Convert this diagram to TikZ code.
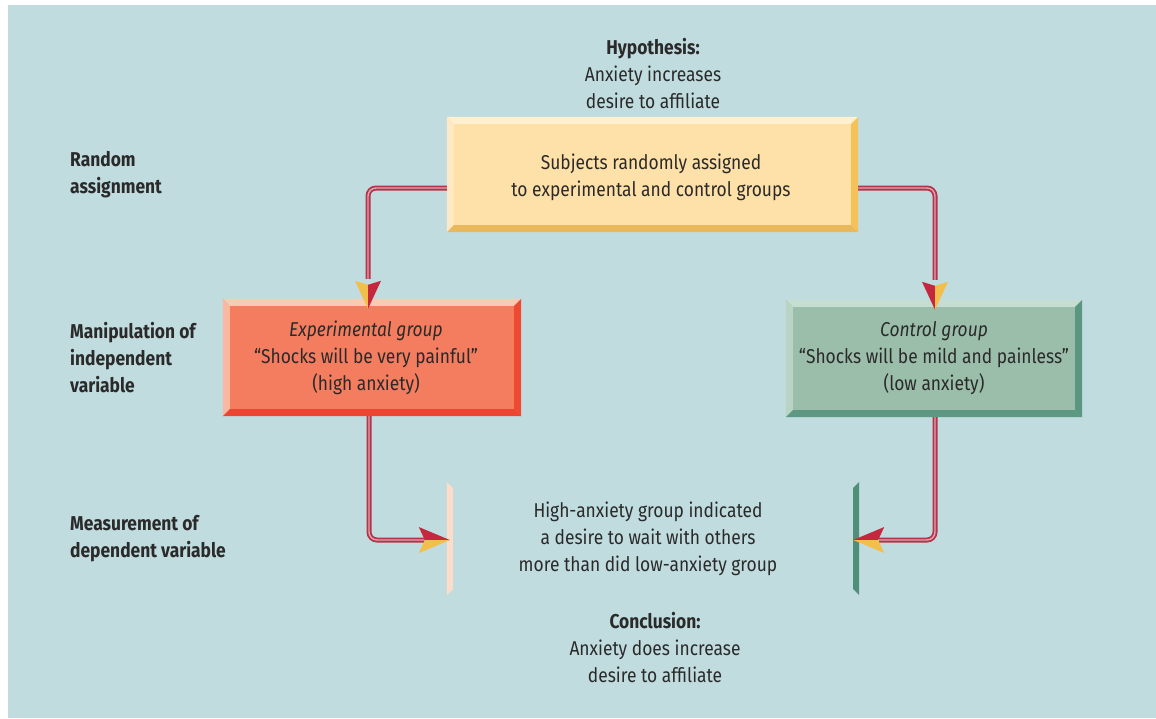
\documentclass[tikz,border=0pt]{standalone}
\usepackage{fontspec}
\setmainfont{Fira Sans}[FakeStretch=0.87]
\usetikzlibrary{calc}
\definecolor{bg}{HTML}{C0DCDF}
\definecolor{ink}{HTML}{2A2A2A}
\definecolor{pipedark}{HTML}{B3344B}
\definecolor{pipelight}{HTML}{E6A2AE}
\definecolor{crim}{HTML}{C3283F}
\definecolor{yel}{HTML}{F2C04A}
\definecolor{topfill}{HTML}{FEE0A9}
\definecolor{toptop}{HTML}{FFF0D2}
\definecolor{topleft}{HTML}{FFE8C4}
\definecolor{topright}{HTML}{F5C25A}
\definecolor{topbot}{HTML}{E9B85C}
\definecolor{expfill}{HTML}{F47D60}
\definecolor{exptop}{HTML}{FBCAB3}
\definecolor{expleft}{HTML}{F9B9A0}
\definecolor{expright}{HTML}{EE4A33}
\definecolor{expbot}{HTML}{EC4632}
\definecolor{ctlfill}{HTML}{9BBEAB}
\definecolor{ctltop}{HTML}{C6DDD1}
\definecolor{ctlleft}{HTML}{B9D4C5}
\definecolor{ctlright}{HTML}{5A9680}
\definecolor{ctlbot}{HTML}{5C9882}
\definecolor{barlight}{HTML}{FDDCCA}
\definecolor{bardark}{HTML}{4F8F77}
\newcommand\bevelbox[5]{%
  \fill[#2] (#1.north west) -- (#1.north east) -- ([xshift=-7pt,yshift=-7pt]#1.north east) -- ([xshift=7pt,yshift=-7pt]#1.north west) -- cycle;
  \fill[#3] (#1.north west) -- ([xshift=7pt,yshift=-7pt]#1.north west) -- ([xshift=7pt,yshift=7pt]#1.south west) -- (#1.south west) -- cycle;
  \fill[#4] (#1.north east) -- (#1.south east) -- ([xshift=-7pt,yshift=7pt]#1.south east) -- ([xshift=-7pt,yshift=-7pt]#1.north east) -- cycle;
  \fill[#5] (#1.south west) -- (#1.south east) -- ([xshift=-7pt,yshift=7pt]#1.south east) -- ([xshift=7pt,yshift=7pt]#1.south west) -- cycle;}
\newcommand\arrowD[3]{%
  \fill[#2] (#1) -- ++(-13,-28) -- ++(13,4) -- cycle;
  \fill[#3] (#1) -- ++(13,-28) -- ++(-13,4) -- cycle;}
\newcommand\arrowR[1]{%
  \fill[crim] (#1) -- ++(-31,-13) -- ++(6,13) -- cycle;
  \fill[yel] (#1) -- ++(-31,13) -- ++(6,-13) -- cycle;}
\newcommand\arrowL[1]{%
  \fill[crim] (#1) -- ++(31,-13) -- ++(-6,13) -- cycle;
  \fill[yel] (#1) -- ++(31,13) -- ++(-6,-13) -- cycle;}
\begin{document}
\begin{tikzpicture}[x=1pt,y=-1pt,
  txt/.style={text=ink, align=center, font=\fontsize{20}{27}\selectfont, inner sep=0pt},
  lbl/.style={text=ink, align=left, anchor=west, font=\fontsize{20}{27}\selectfont\bfseries, inner sep=0pt},
  box/.style={txt, minimum width=#1, inner sep=0pt},
  pipe/.style={draw=pipedark, line width=1.8pt, double=pipelight, double distance=1.4pt, rounded corners=8pt}]
\useasboundingbox (0,0) rectangle (1156,718);
\fill[bg] (8,5) rectangle (1156,718);
% texts
\node[txt] (hyp) at (653,73.5) {\textbf{Hypothesis:}\\Anxiety increases\\desire to affiliate};
\node[txt] (concl) at (655,647) {\textbf{Conclusion:}\\Anxiety does increase\\desire to affiliate};
\node[lbl] (l1) at (70,174.5) {Random\\assignment};
\node[lbl] (l2) at (70,358) {Manipulation of\\independent\\variable};
\node[lbl] (l3) at (70,539) {Measurement of\\dependent variable};
% boxes
\node[box=411pt, minimum height=115pt, fill=topfill] (top) at (652.5,174.5) {};
\bevelbox{top}{toptop}{topleft}{topright}{topbot}
\node[txt] at (651,177.5) {Subjects randomly assigned\\to experimental and control groups};
\node[box=298pt, minimum height=117pt, fill=expfill] (exp) at (372,357.5) {};
\bevelbox{exp}{exptop}{expleft}{expright}{expbot}
\node[txt] at (366,358) {\textit{Experimental group}\\“Shocks will be very painful”\\(high anxiety)};
\node[box=296pt, minimum height=117pt, fill=ctlfill] (ctl) at (934,358.5) {};
\bevelbox{ctl}{ctltop}{ctlleft}{ctlright}{ctlbot}
\node[txt] at (934,358) {\textit{Control group}\\“Shocks will be mild and painless”\\(low anxiety)};
\node[box=412pt, minimum height=113pt] (res) at (653,538.5) {};
\node[txt] at (648,539) {High-anxiety group indicated\\a desire to wait with others\\more than did low-anxiety group};
\fill[barlight] (res.north west) -- ([xshift=6pt,yshift=-6pt]res.north west) -- ([xshift=6pt,yshift=6pt]res.south west) -- (res.south west) -- cycle;
\fill[bardark] (res.north east) -- (res.south east) -- ([xshift=-6pt,yshift=6pt]res.south east) -- ([xshift=-6pt,yshift=-6pt]res.north east) -- cycle;
% connectors
\draw[pipe] ([yshift=-13.5pt]top.west) -| ([xshift=-4pt,yshift=20pt]exp.north);
\draw[pipe] ([yshift=-13.5pt]top.east) -| ([xshift=1pt,yshift=20pt]ctl.north);
\draw[pipe] ([xshift=-3pt]exp.south) |- ([xshift=-20pt,yshift=-1.5pt]res.west);
\draw[pipe] ([xshift=1pt]ctl.south) |- ([xshift=20pt,yshift=-1.5pt]res.east);
\coordinate (t1) at ([xshift=-4pt,yshift=-10pt]exp.north);
\coordinate (t2) at ([xshift=1pt,yshift=-10pt]ctl.north);
\coordinate (t3) at ([xshift=3pt,yshift=-1.5pt]res.west);
\coordinate (t4) at ([xshift=-6pt,yshift=-1.5pt]res.east);
\arrowD{t1}{yel}{crim}
\arrowD{t2}{crim}{yel}
\arrowR{t3}
\arrowL{t4}
\end{tikzpicture}
\end{document}
